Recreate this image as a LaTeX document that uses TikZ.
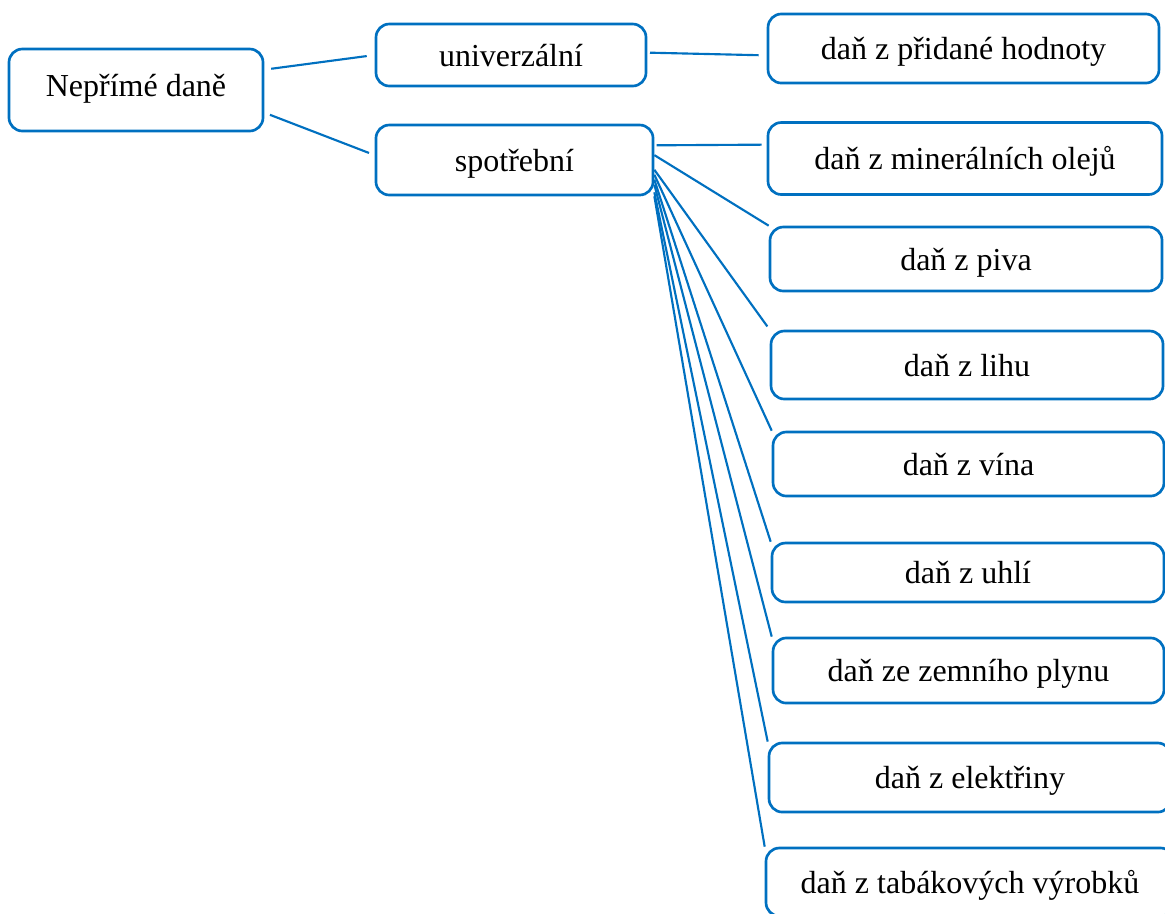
\documentclass[tikz,border=0pt]{standalone}
\usepackage{fontspec}
\setmainfont{Liberation Serif}
\usepackage{tikz}
\usepackage{xcolor}
\usetikzlibrary{calc}
\definecolor{linkblue}{RGB}{0,112,192}
\tikzstyle{taxbox} = [rectangle, 
rounded corners=5pt, 
inner sep=0pt, 
text height=9.5pt, text depth=1pt, 
font=\fontsize{12}{14}\selectfont, 
text centered, 
draw=linkblue, line width=1pt]
\tikzstyle{link} = [draw=linkblue, line width=0.8pt]

\begin{document}
\begin{tikzpicture}[x=0.375pt, y=-0.375pt]
    \useasboundingbox (0,0) rectangle (1165,913);
    \clip (0,0) rectangle (1165,913);

    % draw main groups
    \node[taxbox, text height=7.5pt, text depth=3pt, minimum width=95.25pt, minimum height=30.75pt] (root) at (136,90) {Nepřímé daně};
    \node[taxbox, minimum width=101.25pt, minimum height=23.25pt] (univ) at (511,55) {univerzální};
    \node[taxbox, minimum width=103.9pt, minimum height=26.25pt] (spot) at (514.5,160) {spotřební};
    \draw[link, shorten <=2.6pt, shorten >=3pt] (root.9) to (univ.west);
    \draw[link, shorten <=2.25pt, shorten >=2.25pt] (root.-10) to (spot.178);

    % draw universal tax
    \node[taxbox, minimum width=146.6pt, minimum height=25.9pt] (dph) at (963.5,48.5) {daň z přidané hodnoty};
    \draw[link, shorten <=1pt, shorten >=3pt] (univ.1) to (dph.182);

    % draw excise taxes
    \node[taxbox, minimum width=147.75pt, minimum height=27pt] (oleje) at (965,158.5) {daň z minerálních olejů};
    \node[taxbox, minimum width=147pt, minimum height=24pt] (pivo) at (966,259) {daň z piva};
    \node[taxbox, minimum width=147pt, minimum height=25.5pt] (lih) at (967,365) {daň z lihu};
    \node[taxbox, minimum width=146.6pt, minimum height=24pt] (vino) at (968.5,464) {daň z vína};
    \node[taxbox, minimum width=147pt, minimum height=22.1pt] (uhli) at (968,572.5) {daň z uhlí};
    \node[taxbox, minimum width=146.6pt, minimum height=24.4pt] (plyn) at (968.5,670.5) {daň ze zemního plynu};
    \node[taxbox, minimum width=150.75pt, minimum height=25.9pt] (elektrina) at (970,777.5) {daň z elektřiny};
    \node[taxbox, minimum width=153pt, minimum height=25.5pt] (tabak) at (970,882) {daň z tabákových výrobků};

    \draw[link, shorten <=0.8pt, shorten >=1.9pt] (spot.6) to (oleje.176.4);
    \draw[link] (spot.2) to (pivo.north west);
    \draw[link, shorten >=1.5pt] (spot.-4) to (lih.north west);
    \draw[link] (spot.-6) to (vino.north west);
    \draw[link] (spot.-8) to (uhli.north west);
    \draw[link] (spot.-10) to (plyn.north west);
    \draw[link] (spot.-13) to (elektrina.north west);
    \draw[link] (spot.south east) to (tabak.north west);
\end{tikzpicture}
\end{document}
